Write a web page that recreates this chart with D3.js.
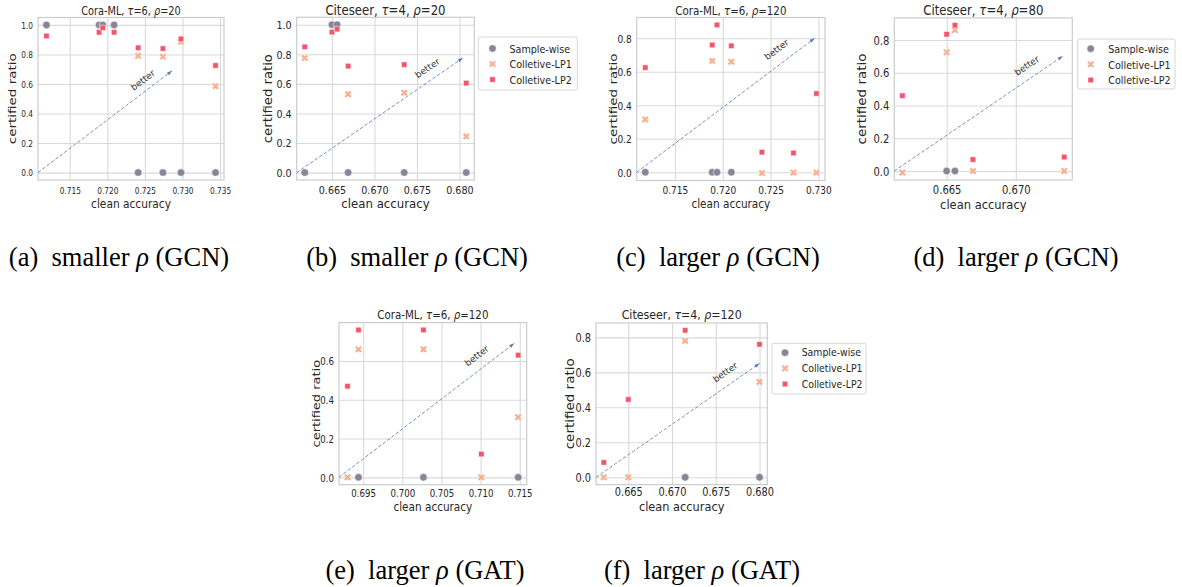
<!DOCTYPE html>
<html><head><meta charset="utf-8">
<script src="https://cdn.jsdelivr.net/npm/d3@7"></script>
<style>body{margin:0;background:#fff} svg{display:block}</style>
</head><body>
<svg id="c" width="1182" height="587"></svg>
<script>
// ---------------- DATA ----------------
const seriesNames = ["Sample-wise", "Colletive-LP1", "Colletive-LP2"];

// (a) Cora-ML, tau=6, rho=20 (GCN)
const accA = [0.7119, 0.7189, 0.7194, 0.7209, 0.7241, 0.7274, 0.7298, 0.7344];
const swA  = [1, 1, 1, 1, 0, 0, 0, 0];
const lp1A = [null, null, null, null, 0.79, 0.785, 0.885, 0.585];
const lp2A = [0.925, 0.95, 0.98, 0.95, 0.845, 0.84, 0.905, 0.725];

// (b) Citeseer, tau=4, rho=20 (GCN)
const accB = [0.6618, 0.665, 0.6656, 0.6669, 0.6735, 0.6808];
const swB  = [0, 1, 1, 0, 0, 0];
const lp1B = [0.775, null, null, 0.53, 0.54, 0.245];
const lp2B = [0.85, 0.95, 0.97, 0.72, 0.73, 0.605];

// (c) Cora-ML, tau=6, rho=120 (GCN)
const accC = [0.7119, 0.7189, 0.7194, 0.7209, 0.7241, 0.7274, 0.7298];
const swC  = [0, 0, 0, 0, null, null, null];
const lp1C = [0.315, 0.665, null, 0.66, -0.005, -0.002, -0.002];
const lp2C = [0.625, 0.76, 0.88, 0.755, 0.12, 0.115, 0.47];

// (d) Citeseer, tau=4, rho=80 (GCN)
const accD = [0.6618, 0.665, 0.6656, 0.6669, 0.6735];
const swD  = [null, 0, 0, null, null];
const lp1D = [-0.01, 0.725, 0.86, 0, 0];
const lp2D = [0.46, 0.835, 0.89, 0.07, 0.085];

// (e) Cora-ML, tau=6, rho=120 (GAT)
const accE = [0.6930, 0.6944, 0.7027, 0.7101, 0.7148];
const swE  = [null, 0, 0, null, 0];
const lp1E = [0, 0.66, 0.66, 0, 0.31];
const lp2E = [0.47, 0.76, 0.76, 0.12, 0.63];

// (f) Citeseer, tau=4, rho=120 (GAT)
const accF = [0.6622, 0.665, 0.6715, 0.6800];
const swF  = [null, null, 0, 0];
const lp1F = [0, 0, 0.78, 0.545];
const lp2F = [0.085, 0.445, 0.84, 0.76];

// tick labels
const xTicksA = [0.715, 0.720, 0.725, 0.730, 0.735];
const xTicksB = [0.665, 0.670, 0.675, 0.680];
const xTicksC = [0.715, 0.720, 0.725, 0.730];
const xTicksD = [0.665, 0.670];
const xTicksE = [0.695, 0.700, 0.705, 0.710, 0.715];
const xTicksF = [0.665, 0.670, 0.675, 0.680];
const yTicks10 = [0, 0.2, 0.4, 0.6, 0.8, 1.0];
const yTicks08 = [0, 0.2, 0.4, 0.6, 0.8];
const yTicks06 = [0, 0.2, 0.4, 0.6];

// "better" arrow ends and label anchors (data units)
const arrowEnds = [[0.7286, 0.689], [0.6804, 0.775], [0.7296, 0.80], [0.6734, 0.702], [0.7143, 0.691], [0.6800, 0.651]];
const betterPos = [[0.72473, 0.625], [0.67624, 0.705], [0.72563, 0.732], [0.6708, 0.643], [0.70951, 0.626], [0.67608, 0.60]];

const titles = ["Cora-ML, τ=6, ρ=20", "Citeseer, τ=4, ρ=20", "Cora-ML, τ=6, ρ=120",
                "Citeseer, τ=4, ρ=80", "Cora-ML, τ=6, ρ=120", "Citeseer, τ=4, ρ=120"];
const captions = [["(a)", "smaller", "GCN"], ["(b)", "smaller", "GCN"], ["(c)", "larger", "GCN"],
                  ["(d)", "larger", "GCN"], ["(e)", "larger", "GAT"], ["(f)", "larger", "GAT"]];

const panelData = [
  {acc: accA, s: [swA, lp1A, lp2A], xt: xTicksA, yt: yTicks10},
  {acc: accB, s: [swB, lp1B, lp2B], xt: xTicksB, yt: yTicks10},
  {acc: accC, s: [swC, lp1C, lp2C], xt: xTicksC, yt: yTicks08},
  {acc: accD, s: [swD, lp1D, lp2D], xt: xTicksD, yt: yTicks08},
  {acc: accE, s: [swE, lp1E, lp2E], xt: xTicksE, yt: yTicks06},
  {acc: accF, s: [swF, lp1F, lp2F], xt: xTicksF, yt: yTicks08}
];

// ---------------- LAYOUT / STYLE ----------------
// sx: horizontal squeeze of text, sxL: squeeze of the x-axis label
const layout = [
  {l: 38,    r: 224,    t: 17.5, b: 180,    sx: 0.78, sxL: 0.85, fT: 12.5, fY: 13.5, fK: 9.5,  ylX: 12.3,  tY: 15,  xtY: 193.8, capX: 119,  capY: 266},
  {l: 296.7, r: 474.3,  t: 17.3, b: 180,    sx: 0.87, sxL: 0.94, fT: 13.5, fY: 13.2, fK: 11,   ylX: 268.3, tY: 15,  xtY: 193.8, capX: 417,  capY: 266,
   leg: {x: 478.3, y: 37, w: 99, h: 53, mx: 492.5, tx: 509.5, rows: [48.5, 64, 79.5], f: 11}},
  {l: 636.7, r: 825,    t: 17.5, b: 180.5,  sx: 0.82, sxL: 0.84, fT: 12.5, fY: 13.5, fK: 11,   ylX: 613.3, tY: 15,  xtY: 193.8, capX: 718,  capY: 266},
  {l: 894.3, r: 1072.3, t: 17.9, b: 180,    sx: 0.87, sxL: 0.92, fT: 13.5, fY: 13.5, fK: 11.5, ylX: 861.7, tY: 15,  xtY: 194.3, capX: 1016, capY: 266,
   leg: {x: 1077.7, y: 39, w: 97.3, h: 50, mx: 1090.7, tx: 1108.3, rows: [48.7, 64.3, 80], f: 11}},
  {l: 339,   r: 526.7,  t: 322.6, b: 484.7, sx: 0.82, sxL: 0.84, fT: 12.5, fY: 13,   fK: 10.5, ylX: 316.7, tY: 319, xtY: 496.8, capX: 425,  capY: 579},
  {l: 596,   r: 767.3,  t: 323,  b: 484.65, sx: 0.85, sxL: 0.91, fT: 13,   fY: 13.5, fK: 11.5, ylX: 570,   tY: 319, xtY: 496.5, capX: 702,  capY: 579,
   leg: {x: 772, y: 343.3, w: 94, h: 50.7, mx: 785, tx: 801.7, rows: [352.7, 368.3, 384], f: 11}}
];
const FX = 12.5;   // x-axis label font size

const FONT = "DejaVu Sans";
const TXT = "#262626";
const GRID = "#d9d9d9";
const SPINE = "#cccccc";
const colors = ["#8b8495", "#f7b08e", "#f2566d"];
const ARROW = "#4c72b0";

const svg = d3.select("#c");

function drawMarker(g, k, cx, cy) {
  const sym = [d3.symbolCircle, d3.symbolCross, d3.symbolSquare][k];
  const size = [44, 34, 30][k];
  g.append("path")
    .attr("d", d3.symbol(sym, size)())
    .attr("transform", `translate(${cx},${cy})` + (k === 1 ? " rotate(45)" : ""))
    .attr("fill", colors[k])
    .attr("stroke", "#fff")
    .attr("stroke-width", 0.5);
}

function greekText(sel, str) {
  str.split(/([τρ])/).forEach(pt => {
    if (!pt) return;
    const ts = sel.append("tspan").text(pt);
    if (pt === "τ" || pt === "ρ") ts.attr("font-style", "italic");
  });
}

panelData.forEach((p, i) => {
  const L = layout[i];
  const g = svg.append("g");
  const all = p.s.flat().filter(v => v != null);
  const ymin = d3.min(all), ymax = d3.max(all), yr = ymax - ymin;
  const xmin = d3.min(p.acc), xmax = d3.max(p.acc), xr = xmax - xmin;
  const x = d3.scaleLinear().domain([xmin - 0.05 * xr, xmax + 0.05 * xr]).range([L.l, L.r]);
  const y = d3.scaleLinear().domain([ymin - 0.05 * yr, ymax + 0.05 * yr]).range([L.b, L.t]);
  const W = L.r - L.l, H = L.b - L.t;

  // grid
  g.append("g").attr("transform", `translate(0,${L.b})`)
    .call(d3.axisBottom(x).tickValues(p.xt).tickSize(-H).tickFormat(""))
    .call(s => { s.select(".domain").remove(); s.selectAll("line").attr("stroke", GRID).attr("stroke-width", 1.1); });
  g.append("g").attr("transform", `translate(${L.l},0)`)
    .call(d3.axisLeft(y).tickValues(p.yt).tickSize(-W).tickFormat(""))
    .call(s => { s.select(".domain").remove(); s.selectAll("line").attr("stroke", GRID).attr("stroke-width", 1.1); });
  // spines
  g.append("rect").attr("x", L.l).attr("y", L.t).attr("width", W).attr("height", H)
    .attr("fill", "none").attr("stroke", SPINE).attr("stroke-width", 1.2);

  // tick labels
  const xa = g.append("g").attr("transform", `translate(0,${L.b})`)
    .call(d3.axisBottom(x).tickValues(p.xt).tickSize(0).tickFormat(d3.format(".3f")));
  xa.select(".domain").remove();
  xa.attr("font-family", FONT).attr("font-size", L.fK);
  xa.selectAll("text").attr("y", L.xtY - L.b).attr("dy", null)
    .attr("transform", `scale(${L.sx},1)`).attr("fill", TXT);
  const ya = g.append("g").attr("transform", `translate(${L.l},0)`)
    .call(d3.axisLeft(y).tickValues(p.yt).tickSize(0).tickFormat(d3.format(".1f")));
  ya.select(".domain").remove();
  ya.attr("font-family", FONT).attr("font-size", L.fK);
  ya.selectAll("text").attr("x", -5 / L.sx).attr("dy", "0.35em")
    .attr("transform", `scale(${L.sx},1)`).attr("fill", TXT);

  // axis labels (x label placed just below tick labels)
  const xlY = L.xtY + 0.24 * L.fK + 0.93 * FX + 0.4;
  g.append("text").text("clean accuracy")
    .attr("transform", `translate(${(L.l + L.r) / 2},${xlY}) scale(${L.sxL},1)`)
    .attr("text-anchor", "middle").attr("font-family", FONT).attr("font-size", FX).attr("fill", TXT);
  g.append("text").text("certified ratio")
    .attr("transform", `translate(${L.ylX},${(L.t + L.b) / 2}) scale(${L.sx},1) rotate(-90)`)
    .attr("text-anchor", "middle").attr("dominant-baseline", "central")
    .attr("font-family", FONT).attr("font-size", L.fY).attr("fill", TXT);
  // title
  const tt = g.append("text")
    .attr("transform", `translate(${(L.l + L.r) / 2},${L.tY}) scale(${L.sx},1)`)
    .attr("text-anchor", "middle").attr("font-family", FONT).attr("font-size", L.fT).attr("fill", TXT);
  greekText(tt, titles[i]);

  // arrow "better"
  const p0 = [x(x.domain()[0]), y(0)];
  const p1 = [x(arrowEnds[i][0]), y(arrowEnds[i][1])];
  const ang = Math.atan2(p1[1] - p0[1], p1[0] - p0[0]) * 180 / Math.PI;
  g.append("line").attr("x1", p0[0]).attr("y1", p0[1]).attr("x2", p1[0]).attr("y2", p1[1])
    .attr("stroke", ARROW).attr("stroke-width", 0.9).attr("stroke-dasharray", "3.5,2").attr("opacity", 0.85);
  g.append("path").attr("d", "M0,0 L-5,-1.8 L-5,1.8 Z")
    .attr("transform", `translate(${p1[0]},${p1[1]}) rotate(${ang})`).attr("fill", ARROW).attr("opacity", 0.9);
  g.append("text").text("better")
    .attr("transform", `translate(${x(betterPos[i][0])},${y(betterPos[i][1])}) rotate(${ang})`)
    .attr("text-anchor", "middle").attr("dominant-baseline", "central")
    .attr("font-family", FONT).attr("font-size", 9).attr("fill", "#333");

  // points
  [0, 1, 2].forEach(k => {
    p.s[k].forEach((v, j) => {
      if (v == null) return;
      drawMarker(g, k, x(p.acc[j]), y(v));
    });
  });

  // legend
  if (L.leg) {
    const lg = L.leg;
    g.append("rect").attr("x", lg.x).attr("y", lg.y).attr("width", lg.w).attr("height", lg.h)
      .attr("rx", 2).attr("fill", "#fff").attr("stroke", "#d6d6d6").attr("stroke-width", 1);
    seriesNames.forEach((nm, k) => {
      drawMarker(g, k, lg.mx, lg.rows[k]);
      g.append("text").text(nm)
        .attr("transform", `translate(${lg.tx},${lg.rows[k]}) scale(${L.sx},1)`)
        .attr("dominant-baseline", "central")
        .attr("font-family", FONT).attr("font-size", lg.f).attr("fill", TXT);
    });
  }

  // caption
  const c = captions[i];
  const ct = svg.append("text").attr("x", L.capX).attr("y", L.capY)
    .attr("text-anchor", "middle").attr("font-family", "Liberation Serif").attr("font-size", 26.5).attr("fill", "#000")
    .attr("xml:space", "preserve");
  ct.append("tspan").text(c[0] + "  " + c[1] + " ");
  ct.append("tspan").attr("font-style", "italic").text("ρ");
  ct.append("tspan").text(" (" + c[2] + ")");
});
</script>
</body></html>
